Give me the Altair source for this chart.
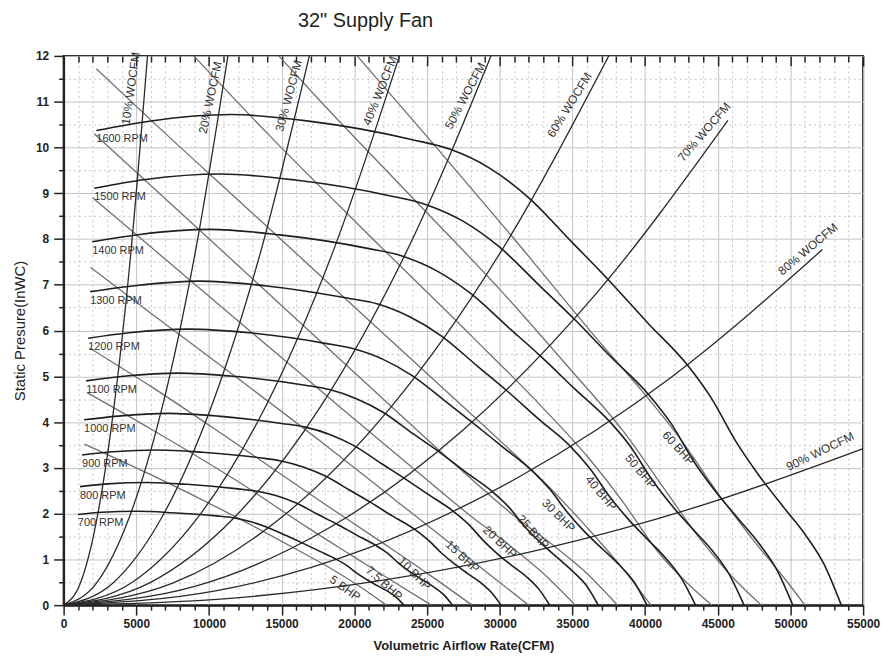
import altair as alt
import pandas as pd

FONT = "Liberation Sans"

# ---------------- data (x in 1000 CFM, y in inWC) ----------------
rpm_names = ["700 RPM", "800 RPM", "900 RPM", "1000 RPM", "1100 RPM",
             "1200 RPM", "1300 RPM", "1400 RPM", "1500 RPM", "1600 RPM"]
rpm_x = [
    [0.98, 2.63, 5.03, 7.44, 10.5, 11.64, 12.82, 14.0, 15.31, 16.41, 17.59, 18.77, 19.51, 20.21, 20.91, 21.66, 22.31, 22.88, 23.41],
    [1.13, 3.0, 5.75, 8.5, 12.0, 13.3, 14.65, 16.0, 17.5, 18.75, 20.1, 21.45, 22.3, 23.1, 23.9, 24.75, 25.5, 26.15, 26.75],
    [1.27, 3.38, 6.47, 9.56, 13.5, 14.96, 16.48, 18.0, 19.69, 21.09, 22.61, 24.13, 25.09, 25.99, 26.89, 27.84, 28.69, 29.42, 30.09],
    [1.41, 3.75, 7.19, 10.63, 15.0, 16.63, 18.31, 20.0, 21.88, 23.44, 25.13, 26.81, 27.88, 28.88, 29.88, 30.94, 31.88, 32.69, 33.44],
    [1.55, 4.13, 7.91, 11.69, 16.5, 18.29, 20.14, 22.0, 24.06, 25.78, 27.64, 29.49, 30.66, 31.76, 32.86, 34.03, 35.06, 35.96, 36.78],
    [1.69, 4.5, 8.63, 12.75, 18.0, 19.95, 21.98, 24.0, 26.25, 28.13, 30.15, 32.18, 33.45, 34.65, 35.85, 37.13, 38.25, 39.23, 40.13],
    [1.83, 4.88, 9.34, 13.81, 19.5, 21.61, 23.81, 26.0, 28.44, 30.47, 32.66, 34.86, 36.24, 37.54, 38.84, 40.22, 41.44, 42.49, 43.47],
    [1.97, 5.25, 10.06, 14.88, 21.0, 23.28, 25.64, 28.0, 30.63, 32.81, 35.18, 37.54, 39.03, 40.43, 41.83, 43.31, 44.63, 45.76, 46.81],
    [2.11, 5.63, 10.78, 15.94, 22.5, 24.94, 27.47, 30.0, 32.81, 35.16, 37.69, 40.22, 41.81, 43.31, 44.81, 46.41, 47.81, 49.03, 50.16],
    [2.25, 6.0, 11.5, 17.0, 24.0, 26.6, 29.3, 32.0, 35.0, 37.5, 40.2, 42.9, 44.6, 46.2, 47.8, 49.5, 51.0, 52.3, 53.5],
]
rpm_y = [
    [1.98, 2.03, 2.05, 2.02, 1.95, 1.91, 1.83, 1.70, 1.52, 1.36, 1.18, 1.00, 0.86, 0.69, 0.55, 0.41, 0.30, 0.17, 0],
    [2.59, 2.65, 2.68, 2.64, 2.54, 2.49, 2.39, 2.23, 1.98, 1.78, 1.54, 1.31, 1.13, 0.90, 0.71, 0.54, 0.39, 0.23, 0],
    [3.28, 3.35, 3.39, 3.34, 3.22, 3.15, 3.02, 2.82, 2.51, 2.25, 1.95, 1.66, 1.42, 1.14, 0.90, 0.68, 0.49, 0.28, 0],
    [4.05, 4.13, 4.19, 4.13, 3.97, 3.89, 3.73, 3.48, 3.09, 2.77, 2.41, 2.05, 1.76, 1.41, 1.11, 0.84, 0.61, 0.35, 0],
    [4.90, 5.00, 5.07, 5.00, 4.81, 4.71, 4.51, 4.21, 3.74, 3.36, 2.91, 2.48, 2.13, 1.70, 1.35, 1.02, 0.73, 0.43, 0],
    [5.83, 5.95, 6.03, 5.95, 5.72, 5.60, 5.37, 5.01, 4.46, 3.99, 3.47, 2.95, 2.53, 2.03, 1.60, 1.21, 0.87, 0.51, 0],
    [6.85, 6.98, 7.08, 6.98, 6.71, 6.58, 6.30, 5.88, 5.23, 4.69, 4.07, 3.47, 2.97, 2.38, 1.88, 1.42, 1.02, 0.59, 0],
    [7.94, 8.10, 8.21, 8.09, 7.79, 7.63, 7.31, 6.81, 6.06, 5.44, 4.72, 4.02, 3.45, 2.76, 2.18, 1.65, 1.19, 0.69, 0],
    [9.11, 9.30, 9.42, 9.29, 8.94, 8.75, 8.39, 7.82, 6.96, 6.24, 5.41, 4.61, 3.96, 3.16, 2.50, 1.89, 1.36, 0.79, 0],
    [10.37, 10.58, 10.72, 10.57, 10.17, 9.96, 9.55, 8.90, 7.92, 7.10, 6.16, 5.25, 4.50, 3.60, 2.85, 2.15, 1.55, 0.90, 0],
]

wocfm_names = ["10% WOCFM", "20% WOCFM", "30% WOCFM", "40% WOCFM", "50% WOCFM",
               "60% WOCFM", "70% WOCFM", "80% WOCFM", "90% WOCFM"]
wocfm_x = [
    [0, 1.15, 2.31, 3.46, 4.62, 5.77],
    [0, 2.26, 4.52, 6.78, 9.04, 11.3],
    [0, 3.38, 6.76, 10.14, 13.52, 16.9],
    [0, 4.62, 9.24, 13.86, 18.48, 23.1],
    [0, 5.88, 11.76, 17.64, 23.52, 29.4],
    [0, 7.5, 15.0, 22.5, 30.0, 37.5],
    [0, 9.14, 18.28, 27.42, 36.56, 45.7],
    [0, 10.44, 20.88, 31.32, 41.76, 52.2],
    [0, 11.0, 22.0, 33.0, 44.0, 55.0],
]
wocfm_y = [
    [0, 0.48, 1.92, 4.32, 7.68, 12.0],
    [0, 0.48, 1.92, 4.32, 7.68, 12.0],
    [0, 0.48, 1.92, 4.32, 7.68, 12.0],
    [0, 0.48, 1.92, 4.32, 7.68, 12.0],
    [0, 0.48, 1.92, 4.32, 7.68, 12.0],
    [0, 0.48, 1.92, 4.32, 7.68, 12.0],
    [0, 0.42, 1.69, 3.81, 6.78, 10.59],
    [0, 0.31, 1.24, 2.80, 4.97, 7.77],
    [0, 0.137, 0.547, 1.23, 2.19, 3.42],
]
wocfm_label_x = [4.62, 10.09, 15.49, 21.77, 27.63, 34.8, 44.07, 51.2, 52.04]
wocfm_label_y = [11.29, 11.09, 11.13, 11.24, 11.13, 10.93, 10.34, 7.78, 3.36]
wocfm_label_angle = [278, 282, 285, 292, 298, 302, 311, 320, 334]

bhp_names = ["5 BHP", "7.5 BHP", "10 BHP", "15 BHP", "20 BHP",
             "25 BHP", "30 BHP", "40 BHP", "50 BHP", "60 BHP"]
bhp_x = [
    [1.43, 6.0, 12.0, 16.0, 18.5, 20.5, 22.2],
    [1.64, 6.0, 12.0, 17.0, 20.0, 23.0, 25.3],
    [1.78, 6.0, 12.0, 18.0, 22.0, 25.0, 28.1],
    [1.85, 6.0, 12.0, 18.0, 23.0, 27.0, 29.5, 32.0],
    [2.0, 10.0, 18.0, 24.0, 28.0, 30.5, 32.8, 35.2],
    [2.1, 9.4, 16.0, 22.0, 27.0, 31.0, 33.5, 35.8, 38.1],
    [2.25, 6.1, 12.0, 18.0, 24.0, 30.0, 33.5, 36.0, 38.2, 40.4],
    [8.95, 14.1, 20.7, 28.0, 33.0, 36.1, 38.6, 40.8, 43.0, 44.6],
    [14.8, 17.7, 24.0, 30.0, 35.0, 38.5, 41.3, 43.9, 46.2, 48.0],
    [20.2, 25.7, 31.0, 36.6, 40.0, 42.5, 45.0, 47.5, 49.5, 51.0],
]
bhp_y = [
    [3.52, 2.85, 1.90, 1.22, 0.78, 0.38, 0],
    [4.64, 3.85, 2.70, 1.65, 1.05, 0.45, 0],
    [5.62, 4.78, 3.50, 2.20, 1.35, 0.70, 0],
    [7.38, 6.38, 4.95, 3.50, 2.25, 1.25, 0.62, 0],
    [8.90, 6.75, 4.60, 3.00, 1.95, 1.35, 0.75, 0],
    [10.30, 8.18, 6.25, 4.50, 3.05, 1.95, 1.35, 0.75, 0],
    [11.72, 10.57, 8.85, 7.10, 5.35, 3.60, 2.55, 1.70, 0.90, 0],
    [12.0, 10.28, 8.18, 5.90, 4.30, 3.22, 2.20, 1.20, 0.45, 0],
    [12.0, 11.0, 8.90, 6.90, 5.10, 3.80, 2.55, 1.40, 0.55, 0],
    [12.0, 9.98, 8.00, 5.85, 4.60, 3.60, 2.45, 1.40, 0.62, 0],
]
bhp_label_x = [19.36, 22.05, 24.14, 27.44, 30.02, 32.3, 34.05, 36.96, 39.7, 42.3]
bhp_label_y = [0.37, 0.48, 0.69, 1.06, 1.38, 1.60, 1.96, 2.45, 2.92, 3.43]
bhp_label_angle = [36, 42, 45, 43, 43, 48, 45, 50, 50, 48]

x_major_ticks = list(range(0, 55001, 5000))
x_minor_ticks = [v for v in range(0, 55001, 1000) if v % 5000]
y_major_ticks = list(range(0, 13))
y_minor_ticks = [i + 0.5 for i in range(12)]


# ---------------- tables ----------------
def long_table(names, xs, ys):
    rows = []
    for n, xx, yy in zip(names, xs, ys):
        for a, b in zip(xx, yy):
            rows.append({"curve": n, "x": a * 1000, "y": b})
    return pd.DataFrame(rows)


rpm_df = long_table(rpm_names, rpm_x, rpm_y)
woc_df = long_table(wocfm_names, wocfm_x, wocfm_y)
bhp_df = long_table(bhp_names, bhp_x, bhp_y)

rpm_lab = pd.DataFrame({"text": rpm_names,
                        "x": [xx[0] * 1000 for xx in rpm_x],
                        "y": [yy[0] for yy in rpm_y]})
woc_lab = pd.DataFrame({"text": wocfm_names,
                        "x": [v * 1000 for v in wocfm_label_x],
                        "y": wocfm_label_y, "angle": wocfm_label_angle})
bhp_lab = pd.DataFrame({"text": bhp_names,
                        "x": [v * 1000 for v in bhp_label_x],
                        "y": bhp_label_y, "angle": bhp_label_angle})
holder = pd.DataFrame({"x": [0, 55000], "y": [0, 12]})

xs = alt.Scale(domain=[0, 55000], nice=False, zero=False)
ys = alt.Scale(domain=[0, 12], nice=False, zero=False)

lab_style = dict(labelFont=FONT, labelFontSize=12, labelFontWeight="bold",
                 labelColor="#222")

# minor grid + minor ticks
h_minor = alt.Chart(holder).mark_point(opacity=0).encode(
    x=alt.X("x:Q", scale=xs, axis=alt.Axis(
        orient="bottom", values=x_minor_ticks, grid=True, gridDash=[2, 3],
        gridColor="#c4c4c4", gridWidth=1, ticks=True, tickSize=5, tickWidth=1.5,
        tickColor="#222", labels=False, domain=False, title=None)),
    y=alt.Y("y:Q", scale=ys, axis=alt.Axis(
        orient="left", values=y_minor_ticks, grid=True, gridDash=[2, 3],
        gridColor="#c4c4c4", gridWidth=1, ticks=True, tickSize=5, tickWidth=1.5,
        tickColor="#222", labels=False, domain=False, title=None)),
)

# major grid, ticks, labels, titles
h_major = alt.Chart(holder).mark_point(opacity=0).encode(
    x=alt.X("x:Q", scale=xs, axis=alt.Axis(
        orient="bottom", values=x_major_ticks, grid=True, gridColor="#c4c4c4",
        gridWidth=1, tickSize=10, tickWidth=1.5, tickColor="#222",
        domain=True, domainColor="#222", domainWidth=2, format="d",
        labelPadding=4, labelFlush=False, labelOverlap=False,
        title="Volumetric Airflow Rate(CFM)", titleFont=FONT, titleFontSize=13,
        titleFontWeight="bold", titleColor="#222", titlePadding=10, **lab_style)),
    y=alt.Y("y:Q", scale=ys, axis=alt.Axis(
        orient="left", values=y_major_ticks, grid=True, gridColor="#c4c4c4",
        gridWidth=1, tickSize=10, tickWidth=1.5, tickColor="#222",
        domain=True, domainColor="#222", domainWidth=2, format="d",
        labelPadding=5, labelOverlap=False,
        title="Static Presure(InWC)", titleFont=FONT, titleFontSize=15,
        titleFontWeight="normal", titleColor="#222", titlePadding=8, **lab_style)),
)

# inward ticks on top edge
h_top_minor = alt.Chart(holder).mark_point(opacity=0).encode(
    x=alt.X("x:Q", scale=xs, axis=alt.Axis(
        orient="top", values=x_minor_ticks, tickSize=6, offset=-6, tickWidth=1.5,
        tickColor="#222", labels=False, domain=False, grid=False, title=None)),
    y=alt.Y("y:Q", scale=ys, axis=None),
)
h_top_major = alt.Chart(holder).mark_point(opacity=0).encode(
    x=alt.X("x:Q", scale=xs, axis=alt.Axis(
        orient="top", values=x_major_ticks, tickSize=10, offset=-10, tickWidth=1.5,
        tickColor="#222", labels=False, domain=False, grid=False, title=None)),
    y=alt.Y("y:Q", scale=ys, axis=None),
)

X = alt.X("x:Q", scale=xs, axis=None)
Y = alt.Y("y:Q", scale=ys, axis=None)

bhp_lines = alt.Chart(bhp_df).mark_line(
    color="#707070", strokeWidth=1.3, interpolate="monotone", clip=True
).encode(x=X, y=Y, detail="curve:N")

woc_lines = alt.Chart(woc_df).mark_line(
    color="#2a2a2a", strokeWidth=1.3, interpolate="monotone", clip=True
).encode(x=X, y=Y, detail="curve:N")

rpm_lines = alt.Chart(rpm_df).mark_line(
    color="#1e1e1e", strokeWidth=1.6, interpolate="monotone", clip=True
).encode(x=X, y=Y, detail="curve:N")

rpm_text = alt.Chart(rpm_lab).mark_text(
    align="left", baseline="top", dy=3, font=FONT, fontSize=11, color="#333"
).encode(x=X, y=Y, text="text:N")

woc_text = alt.Chart(woc_lab).mark_text(
    align="center", baseline="middle", font=FONT, fontSize=12, color="#333"
).encode(x=X, y=Y, text="text:N", angle=alt.Angle("angle:Q", scale=None))

bhp_text = alt.Chart(bhp_lab).mark_text(
    align="center", baseline="middle", font=FONT, fontSize=12, color="#333"
).encode(x=X, y=Y, text="text:N", angle=alt.Angle("angle:Q", scale=None))

chart = alt.layer(
    h_minor, h_major, h_top_minor, h_top_major,
    bhp_lines, woc_lines, rpm_lines, rpm_text, woc_text, bhp_text,
).resolve_axis(x="independent", y="independent").properties(
    width=805, height=553,
    autosize=alt.AutoSizeParams(type="none"),
    padding={"left": 56, "top": 46, "right": 18, "bottom": 56},
    title=alt.TitleParams('32" Supply Fan', anchor="start", frame="group",
                          dx=236, offset=19, font=FONT, fontSize=20,
                          fontWeight="normal", color="#222"),
).configure_view(stroke="#222", strokeWidth=2)

chart.save("out.html", embed_options={"renderer": "svg", "actions": False})
